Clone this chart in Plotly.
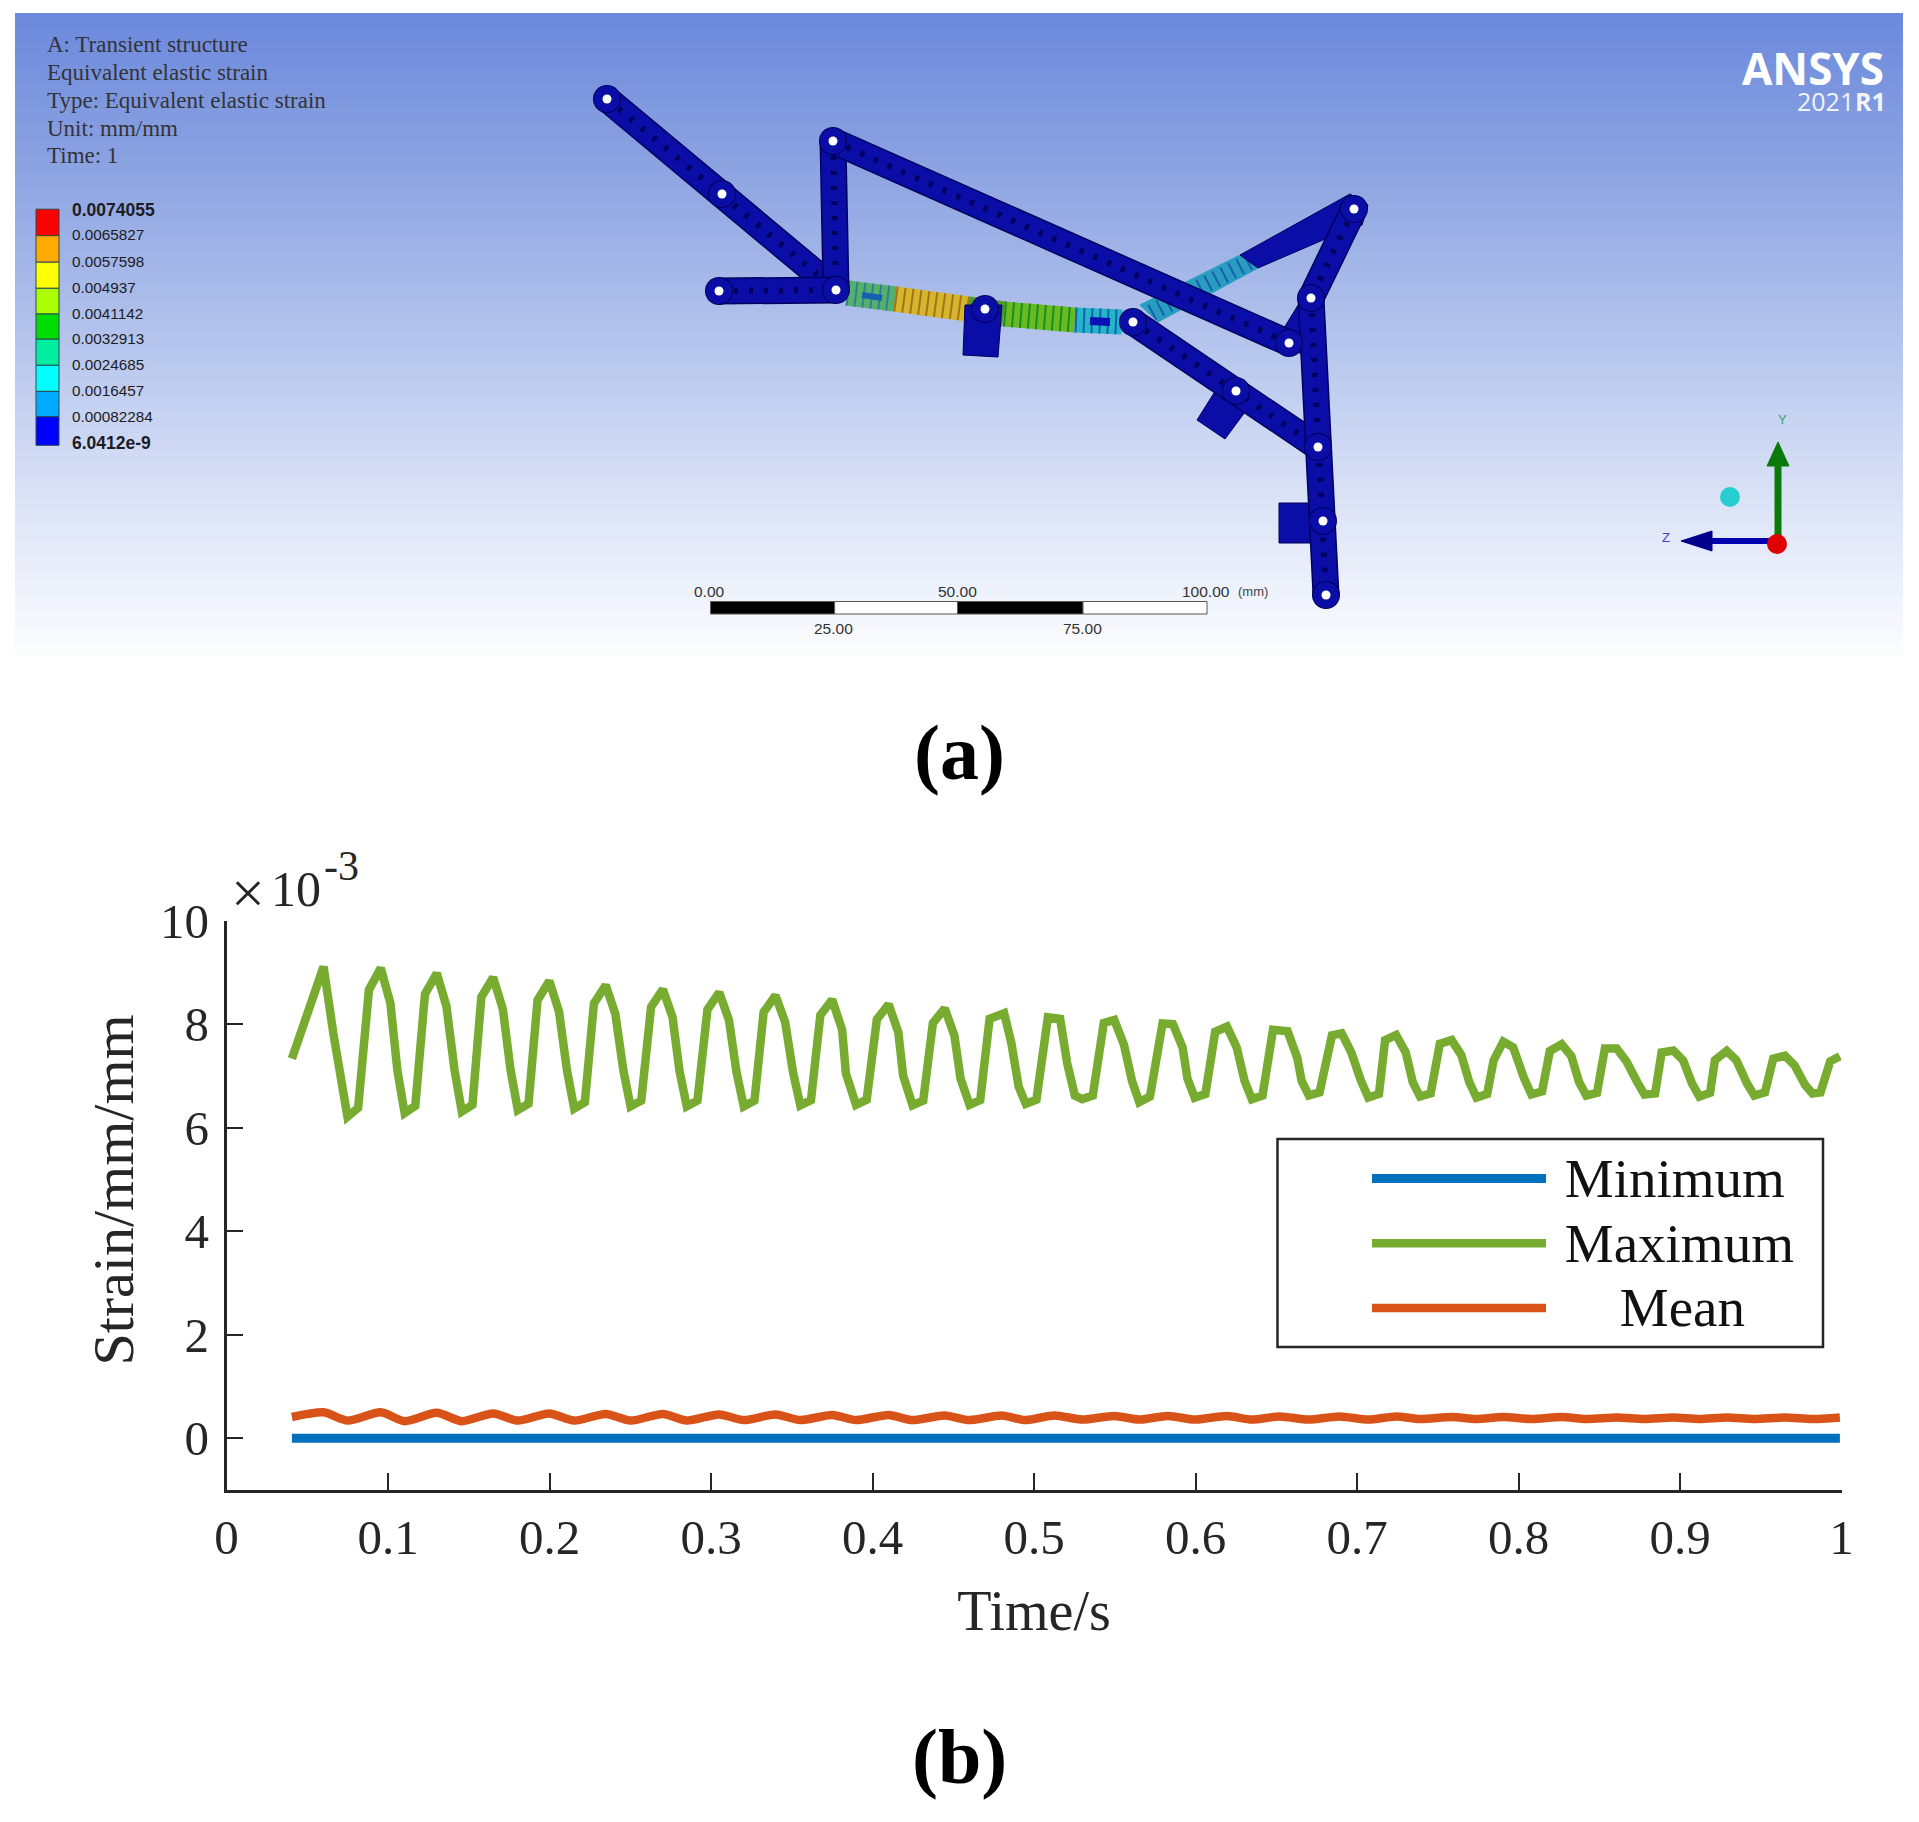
import plotly.graph_objects as go

W, H = 1919, 1822
SERIF = "Liberation Serif"
SANS = "Liberation Sans"
INK = "#262626"

# ---------- chart (b) data ----------
x_ticks = [0, 0.1, 0.2, 0.3, 0.4, 0.5, 0.6, 0.7, 0.8, 0.9, 1]
x_tick_labels = ["0", "0.1", "0.2", "0.3", "0.4", "0.5", "0.6", "0.7", "0.8", "0.9", "1"]
y_ticks = [0, 2, 4, 6, 8, 10]
y_tick_labels = ["0", "2", "4", "6", "8", "10"]

max_t = [
 .0405,.0539,.0601,.0661,.0749,
 .0815,.0882,.0955,.1015,.1058,.1103,
 .1169,.1229,.1302,.1362,.1412,.1457,
 .1523,.1578,.1651,.1711,.1759,.1804,
 .1870,.1926,.1999,.2059,.2108,.2153,
 .2219,.2275,.2348,.2408,.2457,.2502,
 .2568,.2629,.2702,.2762,.2805,.2850,
 .2916,.2978,.3051,.3111,.3158,.3203,
 .3269,.3326,.3399,.3459,.3508,.3553,
 .3619,.3677,.3750,.3812,.3835,.3898,
 .3964,.4027,.4100,.4160,.4190,.4248,
 .4314,.4374,.4447,.4507,.4545,.4601,
 .4667,.4725,.4815,.4860,.4905,.4949,
 .5015,.5086,.5162,.5205,.5253,.5298,
 .5364,.5432,.5497,.5557,.5607,.5652,
 .5718,.5796,.5860,.5920,.5950,.5995,
 .6061,.6122,.6195,.6255,.6304,.6349,
 .6415,.6480,.6570,.6630,.6657,.6702,
 .6768,.6845,.6905,.6965,.7025,.7070,
 .7136,.7174,.7242,.7302,.7345,.7390,
 .7456,.7513,.7586,.7646,.7695,.7740,
 .7806,.7846,.7906,.7967,.8035,.8080,
 .8146,.8194,.8267,.8327,.8375,.8420,
 .8486,.8535,.8608,.8668,.8735,.8780,
 .8846,.8886,.8959,.9019,.9075,.9120,
 .9186,.9216,.9289,.9349,.9415,.9460,
 .9526,.9577,.9650,.9710,.9775,.9820,
 .9870,.9930,.9990,
]
max_v = [
 7.33,8.62,9.11,7.83,6.21,
 6.38,8.66,9.08,8.40,7.11,6.28,
 6.42,8.58,8.98,8.34,7.11,6.31,
 6.44,8.52,8.90,8.29,7.11,6.34,
 6.46,8.46,8.83,8.24,7.11,6.37,
 6.49,8.40,8.75,8.19,7.11,6.41,
 6.52,8.33,8.67,8.13,7.09,6.41,
 6.52,8.28,8.61,8.08,7.07,6.41,
 6.52,8.23,8.55,8.04,7.07,6.43,
 6.53,8.17,8.47,7.89,7.05,6.44,
 6.54,8.09,8.38,7.84,7.00,6.43,
 6.52,8.02,8.30,7.78,6.95,6.44,
 6.53,8.10,8.21,7.63,6.79,6.46,
 6.54,8.13,8.10,7.25,6.62,6.55,
 6.62,8.02,8.08,7.60,6.90,6.49,
 6.60,8.01,8.00,7.55,6.95,6.58,
 6.65,7.85,7.95,7.55,6.90,6.55,
 6.62,7.89,7.86,7.35,6.90,6.62,
 6.68,7.78,7.82,7.45,6.90,6.58,
 6.65,7.69,7.79,7.45,6.88,6.60,
 6.66,7.62,7.69,7.40,6.88,6.58,
 6.65,7.30,7.66,7.55,6.95,6.64,
 6.70,7.48,7.61,7.38,6.88,6.62,
 6.67,7.53,7.53,7.28,6.88,6.64,
 6.66,7.45,7.49,7.30,6.85,6.60,
 6.67,7.30,7.48,7.30,6.85,6.62,
 6.68,7.33,7.39,7.20,6.82,6.66,
 6.68,7.28,7.38,
]
mean_t = [.0405,.0601,.0749,.0955,.1103,.1302,.1457,.1651,.1804,.1999,.2153,.2348,.2502,.2702,.2850,
          .3051,.3203,.3399,.3553,.3750,.3898,.4100,.4248,.4447,.4601,.4800,.4949,.5125,.5298,.5497,
          .5652,.5830,.5995,.6195,.6349,.6520,.6702,.6890,.7070,.7242,.7390,.7586,.7740,.7906,.8080,
          .8267,.8420,.8608,.8780,.8959,.9120,.9289,.9460,.9650,.9820,.9990]
mean_v = [.41,.50,.34,.50,.33,.49,.33,.48,.34,.48,.34,.47,.34,.47,.34,
          .46,.35,.46,.35,.45,.35,.45,.35,.44,.35,.44,.35,.44,.36,.43,
          .36,.43,.36,.43,.36,.42,.36,.42,.36,.42,.37,.41,.37,.41,.37,
          .41,.37,.40,.37,.40,.37,.40,.37,.40,.37,.40]
min_t = [.0405, .9990]
min_v = [0.0, 0.0]

# ---------- panel (a) content, in page pixels ----------
info_lines = ["A: Transient structure", "Equivalent elastic strain",
              "Type: Equivalent elastic strain", "Unit: mm/mm", "Time: 1"]
info_y = [44, 72.4, 100, 128.4, 155.7]
band_edges = [209.2, 235.7, 262.2, 288.3, 314, 339.2, 365.3, 391.4, 416.7, 445.3]
band_colors = ["#ff0000", "#ffaa00", "#ffff00", "#aaff00", "#00dd00", "#00eea0", "#00ffff", "#00aaff", "#0000ff"]
band_labels = ["0.0074055", "0.0065827", "0.0057598", "0.004937", "0.0041142",
               "0.0032913", "0.0024685", "0.0016457", "0.00082284", "6.0412e-9"]
band_label_y = [210.4, 234.8, 261.8, 287.5, 313.5, 338.8, 364, 390.6, 416.7, 442.8]

joint_A = (607, 99); joint_B = (722, 194); joint_C = (833, 141); joint_D = (836, 290)
joint_E = (719, 291); joint_F = (985, 309); joint_G = (1133, 322); joint_H = (1289, 343)
joint_I = (1354, 209); joint_J = (1311, 298); joint_K = (1236, 391); joint_L = (1318, 447)
joint_M = (1323, 521); joint_N = (1326, 595)
holes = [joint_A, joint_B, joint_C, joint_D, joint_E, joint_F, joint_G, joint_H,
         joint_I, joint_J, joint_K, joint_L, joint_M, joint_N]
bars = [[joint_A, joint_D], [joint_C, joint_D], [joint_E, joint_D], [joint_G, joint_L],
        [joint_J, joint_N], [joint_I, joint_J]]
top_bar = [joint_C, joint_H]
plate_blue = [(1350, 194), (1368, 205), (1362, 225), (1323, 240), (1258, 268), (1240, 255)]
plate_teal = [(1240, 255), (1258, 268), (1158, 322), (1140, 305)]
plate_hatch = [(1249, 262), (1149, 314)]
gusset = [(1284, 328), (1303, 297), (1303, 358)]
spring_segments = [([(847, 293), (895, 299)], "#55b06a", "#2f7f9a"),
                   ([(895, 299), (968, 309)], "#d4b62a", "#a8701e"),
                   ([(1004, 314), (1075, 320)], "#66bb22", "#1f8a1f"),
                   ([(1075, 320), (1122, 322)], "#22b6c8", "#1560b0")]
blocks = [[(965, 305), (1002, 305), (998, 357), (963, 355)],
          [(1214, 393), (1245, 412), (1225, 439), (1197, 420)],
          [(1279, 503), (1312, 503), (1312, 543), (1279, 543)]]
scale_x = [710.6, 834.6, 957.5, 1083, 1207]
scale_colors = ["#000000", "#ffffff", "#000000", "#ffffff"]
scale_labels_top = [(709, "0.00"), (957.5, "50.00"), (1206, "100.00")]
scale_labels_bot = [(833.5, "25.00"), (1082, "75.00")]
grad_edges = list(range(13, 656, 6))

fig = go.Figure()

# Background and mechanism share a pixel-coordinate axis pair.
P = dict(xaxis="x2", yaxis="y2", hoverinfo="skip", showlegend=False)
fig.add_trace(go.Heatmap(x=[15, 1903], y=grad_edges, z=[[yy] for yy in grad_edges[:-1]], zmin=13, zmax=649,
                         showscale=False, hoverinfo="skip",
                         colorscale=[[0, "#6c89dc"], [0.25, "#8ea5e2"], [0.5, "#b3c3ec"],
                                     [0.75, "#d9e1f6"], [1, "#fbfcfe"]],
                         xaxis="x2", yaxis="y2"))

NAVY, BLUE = "#00005e", "#0a0ea6"

def poly(points, color, edge=None):
    fig.add_trace(go.Scatter(x=[p[0] for p in points] + [points[0][0]],
                             y=[p[1] for p in points] + [points[0][1]],
                             mode="lines", fill="toself", fillcolor=color,
                             line=dict(color=edge or color, width=1), **P))

def stroke(points, color, width, dash=None):
    fig.add_trace(go.Scatter(x=[p[0] for p in points], y=[p[1] for p in points], mode="lines",
                             line=dict(color=color, width=width, dash=dash), **P))

def dots(points, color, size):
    fig.add_trace(go.Scatter(x=[p[0] for p in points], y=[p[1] for p in points], mode="markers",
                             marker=dict(color=color, size=size, line=dict(width=0)), **P))

def mech_bar(pts, w=27):
    stroke(pts, NAVY, w)
    stroke(pts, BLUE, w - 3)
    stroke(pts, NAVY, w - 21, "4px,11px")

# thin coloured link, then the spring strip
poly(plate_teal, "#2a9cc0")
stroke(plate_hatch, "#1560b0", 17, "2px,7px")
poly(plate_blue, BLUE, NAVY)
poly(gusset, BLUE, NAVY)
for seg, base, hatch in spring_segments:
    stroke(seg, base, 25)
    stroke(seg, hatch, 25, "2px,6px")
stroke([(968, 309), (1004, 314)], "#4d9a2a", 25)
stroke([(862, 295), (882, 298)], "#1560b0", 6)
stroke([(1090, 321), (1110, 322)], "#0b0fb4", 8)

for b in blocks:
    poly(b, BLUE, NAVY)
for b in bars:
    mech_bar(b)
mech_bar(top_bar)
dots(holes, NAVY, 28)
dots(holes, BLUE, 26)
dots(holes, "#ffffff", 9)

# triad
stroke([(1778, 540), (1778, 462)], "#0a7a0a", 7)
poly([(1778, 442), (1767, 466), (1789, 466)], "#0a7a0a")
stroke([(1772, 541), (1708, 541)], "#0000b0", 6)
poly([(1681, 541), (1712, 531), (1712, 551)], "#00008c")
dots([(1777, 544)], "#e00000", 20)
dots([(1730, 497)], "#28cdd0", 20)

shapes = []
for i, col in enumerate(band_colors):
    shapes.append(dict(type="rect", xref="x2", yref="y2", x0=36, x1=59, y0=band_edges[i], y1=band_edges[i + 1],
                       fillcolor=col, line=dict(color="#2a4a50", width=1)))
for i, col in enumerate(scale_colors):
    shapes.append(dict(type="rect", xref="x2", yref="y2", x0=scale_x[i], x1=scale_x[i + 1], y0=601.5, y1=614,
                       fillcolor=col, line=dict(color="#555555", width=1)))
# legend frame
shapes.append(dict(type="rect", xref="paper", yref="paper", x0=1277.5 / W, x1=1823 / W,
                   y0=1 - 1347 / H, y1=1 - 1139 / H, line=dict(color=INK, width=2.5), fillcolor="rgba(0,0,0,0)"))

# ---------- chart (b) traces ----------
def legend_name(s, pad):
    return '<span style="font-size:55px">' + "\u00a0" * pad + s + "</span>"

fig.add_trace(go.Scatter(x=min_t, y=min_v, name=legend_name("Minimum", 1), mode="lines",
                         line=dict(color="#0072bd", width=9), hoverinfo="skip"))
fig.add_trace(go.Scatter(x=max_t, y=max_v, name=legend_name("Maximum", 1), mode="lines",
                         line=dict(color="#77ac30", width=8.5), hoverinfo="skip"))
fig.add_trace(go.Scatter(x=mean_t, y=mean_v, name=legend_name("Mean", 5), mode="lines",
                         line=dict(color="#d95319", width=8.5, shape="spline", smoothing=0.7), hoverinfo="skip"))

ann = []
def text(x, y, s, size, color=INK, family=SERIF, xanchor="center", yanchor="middle", **kw):
    ann.append(dict(xref="x2", yref="y2", x=x, y=y, text=s, showarrow=False, xanchor=xanchor, yanchor=yanchor,
                    font=dict(family=family, size=size, color=color), **kw))

for s, yy in zip(info_lines, info_y):
    text(45, yy, s, 23, "#33333a", xanchor="left")
for i, (s, yy) in enumerate(zip(band_labels, band_label_y)):
    bold = i in (0, len(band_labels) - 1)
    text(70, yy, f"<b>{s}</b>" if bold else s, 17.5 if bold else 15.3, "#1c1c24", SANS, xanchor="left")
for xx, s in scale_labels_top:
    text(xx, 591, s, 15.5, "#333333", SANS)
text(1253, 591, "(mm)", 13, "#444444", SANS)
for xx, s in scale_labels_bot:
    text(xx, 628, s, 15.5, "#333333", SANS)
text(1886, 68, "<b>ANSYS</b>", 44, "#ffffff", "Open Sans", xanchor="right")
text(1856, 101, "2021", 25, "#f2f4fb", "Open Sans", xanchor="right")
text(1888, 101, "<b>R1</b>", 25, "#f2f4fb", "Open Sans", xanchor="right")
text(1782, 419, "Y", 13, "#3aa070", SANS)
text(1666, 537, "Z", 13, "#4040d0", SANS)
text(959, 752, "<b>(a)</b>", 78, "#000000")
text(959, 1756, "<b>(b)</b>", 78, "#000000")
text(229, 893, "×", 60, INK, xanchor="left")
text(269, 889, "10", 50, INK, xanchor="left")
text(322, 866, "-3", 42, INK, xanchor="left")
text(112.6, 1190, "Strain/mm/mm", 58, INK, textangle=-90)

axis_common = dict(showgrid=False, zeroline=False, showline=True, linecolor=INK, linewidth=2.5,
                   ticks="inside", ticklen=17, tickwidth=2, tickcolor=INK, automargin=False,
                   tickfont=dict(family=SERIF, size=49, color=INK), tickmode="array")

fig.update_layout(
    width=W, height=H, autosize=False, margin=dict(l=0, r=0, t=0, b=0),
    paper_bgcolor="white", plot_bgcolor="rgba(0,0,0,0)", shapes=shapes, annotations=ann,
    xaxis=dict(domain=[226.5 / W, 1841.5 / W], range=[0, 1], tickvals=x_ticks, ticktext=x_tick_labels,
               anchor="y", ticklabelstandoff=2,
               title=dict(text="Time/s", standoff=28, font=dict(family=SERIF, size=56, color=INK)),
               **axis_common),
    yaxis=dict(domain=[1 - 1490 / H, 1 - 920.5 / H], range=[-1, 10], tickvals=y_ticks, ticktext=y_tick_labels,
               anchor="x", ticklabelstandoff=5, **axis_common),
    xaxis2=dict(domain=[0, 1], range=[0, W], visible=False, anchor="y2"),
    yaxis2=dict(domain=[0, 1], range=[H, 0], visible=False, anchor="x2"),
    legend=dict(x=1367 / W, y=1 - 1141 / H, xanchor="left", yanchor="top", bgcolor="rgba(0,0,0,0)",
                borderwidth=0, itemwidth=174, font=dict(family=SERIF, size=47.5, color="#111111"),
                itemclick=False, itemdoubleclick=False),
)
fig.write_html("out.html", config=dict(displayModeBar=False),
               post_script="document.body.style.margin='0';document.documentElement.style.overflow='hidden';")
